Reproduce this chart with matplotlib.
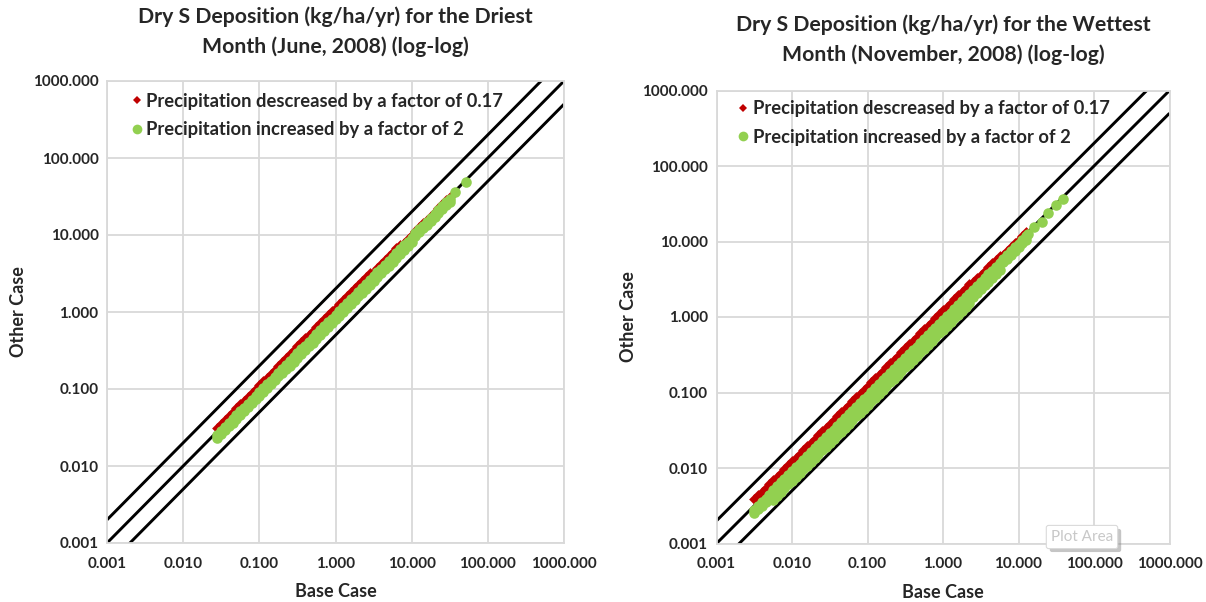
import matplotlib
matplotlib.use("Agg")
import matplotlib.pyplot as plt
import matplotlib.patheffects as pe
from matplotlib.lines import Line2D
from matplotlib.ticker import FixedLocator, FixedFormatter, NullLocator

plt.rcParams["font.family"] = ["Lato", "DejaVu Sans"]
plt.rcParams["font.weight"] = "bold"

# ---- data -------------------------------------------------------------
tick_values = [0.001, 0.01, 0.1, 1, 10, 100, 1000]
tick_labels = ["0.001", "0.010", "0.100", "1.000", "10.000", "100.000", "1000.000"]

series_names = ["Precipitation descreased by a factor of 0.17",
                "Precipitation increased by a factor of 2"]

# June 2008 (driest month): base-case cells
jun_base = [0.02818, 0.03162, 0.03548, 0.03981, 0.04467, 0.05012, 0.05623, 0.06310,
            0.07079, 0.07943, 0.08913,
            0.1000, 0.1122, 0.1259, 0.1413, 0.1585, 0.1778, 0.1995, 0.2239, 0.2512,
            0.2818, 0.3162, 0.3548, 0.3981, 0.4467, 0.5012, 0.5623, 0.6310, 0.7079,
            0.7943, 0.8913,
            1.000, 1.122, 1.259, 1.413, 1.585, 1.778, 1.995, 2.239, 2.512, 2.818,
            3.162, 3.548, 3.981, 4.467, 5.012, 5.623, 6.310, 7.079, 7.943, 8.913,
            10.00, 11.22, 12.59, 14.13, 15.85, 17.78, 19.95, 22.39, 25.12, 28.18, 31.62]
# precipitation x 0.17
jun_dec = [0.03156, 0.03541, 0.03974, 0.04459, 0.05003, 0.05613, 0.06298, 0.07067,
           0.07928, 0.08896, 0.09983,
           0.1120, 0.1257, 0.1410, 0.1583, 0.1775, 0.1991, 0.2234, 0.2508, 0.2864,
           0.3213, 0.3605, 0.4045, 0.4538, 0.5092, 0.5714, 0.6410, 0.7193, 0.8070,
           0.9055, 1.016,
           1.140, 1.279, 1.435, 1.611, 1.807, 2.027, 2.274, 2.552, 2.864, 3.213,
           3.352, 3.761, 4.220, 4.735, 5.313, 5.960, 6.689, 7.504, 7.943, 8.913,
           10.00, 11.22, 12.59, 14.13, 15.85, 17.78, 19.95, 22.39, 25.12, 28.18, 31.62]
# precipitation x 2 (upper and lower edge of the cloud, plus the largest cells)
jun_inc_upper = [0.02564, 0.02877, 0.03229, 0.03623, 0.04065, 0.04561, 0.05117, 0.05742,
                 0.06442, 0.07228, 0.08111,
                 0.0910, 0.1021, 0.1146, 0.1286, 0.1442, 0.1618, 0.1815, 0.2037, 0.2311,
                 0.2593, 0.2909, 0.3264, 0.3663, 0.4110, 0.4611, 0.5173, 0.5805, 0.6513,
                 0.7308, 0.8200,
                 0.920, 1.032, 1.158, 1.300, 1.458, 1.636, 1.835, 2.060, 2.311, 2.593,
                 2.909, 3.264, 3.663, 4.110, 4.611, 5.173, 5.805, 6.513, 7.308, 8.200,
                 9.20, 10.55, 11.83, 13.28, 14.90, 16.71, 18.75, 21.05, 23.61, 26.49, 29.72]
jun_inc_lower = [0.02311, 0.02593, 0.02909, 0.03264, 0.03663, 0.04110, 0.04611, 0.05174,
                 0.05805, 0.06513, 0.07309,
                 0.0820, 0.0920, 0.1032, 0.1159, 0.1300, 0.1458, 0.1636, 0.1836, 0.2010,
                 0.2254, 0.2530, 0.2838, 0.3185, 0.3574, 0.4010, 0.4498, 0.5048, 0.5663,
                 0.6354, 0.7130,
                 0.800, 0.898, 1.007, 1.130, 1.268, 1.422, 1.596, 1.791, 2.010, 2.254,
                 2.530, 2.838, 3.185, 3.574, 4.010, 4.498, 5.048, 5.663, 6.354, 7.130,
                 8.00, 9.65, 10.83, 12.15, 13.63, 15.29, 17.16, 19.26, 21.60, 24.23, 27.19]
jun_inc_top_base = [36.9, 51.4]
jun_inc_top_other = [36.1, 48.8]

# November 2008 (wettest month): base-case cells
nov_base = [0.003162, 0.003548, 0.003981, 0.004467, 0.005012, 0.005623, 0.006310,
            0.007079, 0.007943, 0.008913,
            0.01000, 0.01122, 0.01259, 0.01413, 0.01585, 0.01778, 0.01995, 0.02239,
            0.02512, 0.02818, 0.03162, 0.03548, 0.03981, 0.04467, 0.05012, 0.05623,
            0.06310, 0.07079, 0.07943, 0.08913,
            0.1000, 0.1122, 0.1259, 0.1413, 0.1585, 0.1778, 0.1995, 0.2239, 0.2512,
            0.2818, 0.3162, 0.3548, 0.3981, 0.4467, 0.5012, 0.5623, 0.6310, 0.7079,
            0.7943, 0.8913,
            1.000, 1.122, 1.259, 1.413, 1.585, 1.778, 1.995, 2.239, 2.512, 2.818,
            3.162, 3.548, 3.981, 4.467, 5.012, 5.623, 6.310, 7.079, 7.943, 8.913,
            10.00, 11.22, 12.59]
nov_dec = [0.003858, 0.004329, 0.004857, 0.005450, 0.006115, 0.006860, 0.007698,
           0.008636, 0.009690, 0.01087,
           0.01220, 0.01369, 0.01536, 0.01724, 0.01934, 0.02169, 0.02434, 0.02732,
           0.03065, 0.03438, 0.03858, 0.04329, 0.04857, 0.05450, 0.06115, 0.06860,
           0.07698, 0.08636, 0.09690, 0.1087,
           0.1220, 0.1369, 0.1536, 0.1724, 0.1934, 0.2169, 0.2434, 0.2732, 0.3065,
           0.3438, 0.3858, 0.4329, 0.4857, 0.5450, 0.6115, 0.6860, 0.7698, 0.8636,
           0.9690, 1.087,
           1.220, 1.369, 1.536, 1.724, 1.934, 2.169, 2.434, 2.732, 2.889, 3.241,
           3.636, 4.080, 4.578, 5.137, 5.764, 6.466, 6.689, 7.504, 8.420, 9.448,
           10.60, 11.89, 13.35]
nov_inc_upper = [0.002783, 0.003122, 0.003503, 0.003931, 0.004411, 0.005117, 0.005742,
                 0.006442, 0.007228, 0.008111,
                 0.00910, 0.01021, 0.01146, 0.01286, 0.01442, 0.01618, 0.01815, 0.02037,
                 0.02286, 0.02564, 0.02877, 0.03229, 0.03623, 0.04065, 0.04561, 0.05117,
                 0.05742, 0.06442, 0.07228, 0.08111,
                 0.0910, 0.1021, 0.1146, 0.1286, 0.1442, 0.1618, 0.1815, 0.2037, 0.2286,
                 0.2564, 0.2877, 0.3229, 0.3623, 0.4065, 0.4561, 0.5117, 0.5742, 0.6442,
                 0.7228, 0.8111,
                 0.910, 1.021, 1.146, 1.286, 1.442, 1.618, 1.815, 2.037, 2.311, 2.593,
                 2.909, 3.264, 3.663, 4.110, 4.611, 5.173, 5.931, 6.654, 7.466, 8.378,
                 9.40, 10.55, 11.83]
nov_inc_lower = [0.002530, 0.002838, 0.003185, 0.003574, 0.004010, 0.003824, 0.004291,
                 0.004814, 0.005401, 0.006061,
                 0.00680, 0.00763, 0.00856, 0.00961, 0.01078, 0.01209, 0.01357, 0.01523,
                 0.01708, 0.01916, 0.02150, 0.02413, 0.02707, 0.03038, 0.03408, 0.03824,
                 0.04291, 0.04814, 0.05401, 0.06061,
                 0.0680, 0.0763, 0.0856, 0.0961, 0.1078, 0.1209, 0.1357, 0.1523, 0.1708,
                 0.1916, 0.2150, 0.2413, 0.2707, 0.3038, 0.3408, 0.3824, 0.4291, 0.4814,
                 0.5401, 0.6061,
                 0.680, 0.763, 0.856, 0.961, 1.078, 1.209, 1.357, 1.523, 1.859, 2.085,
                 2.340, 2.626, 2.946, 3.306, 3.709, 4.161, 5.300, 5.946, 6.672, 7.487,
                 8.40, 9.42, 10.58]
nov_inc_top_base = [13.5, 16.2, 20.3, 24.5, 31.4, 38.4]
nov_inc_top_other = [12.6, 15.5, 18.3, 23.7, 30.4, 36.5]

# reference lines: other = factor * base
ref_factors = [2.0, 1.0, 0.5]

RED = "#C00000"
GREEN = "#92D050"
GRID = "#D9D9D9"
TEXT = "#262626"

W, H = 1206, 602
fig = plt.figure(figsize=(W / 100, H / 100), dpi=100)


def draw_panel(rect_px, title_lines, title_y, base, dec, inc_upper, inc_lower,
               top_base, top_other, leg_anchor):
    x0, y0, x1, y1 = rect_px
    ax = fig.add_axes([x0 / W, 1 - y1 / H, (x1 - x0) / W, (y1 - y0) / H])
    ax.set_xscale("log")
    ax.set_yscale("log")
    lo, hi = tick_values[0], tick_values[-1]
    ax.set_xlim(lo, hi)
    ax.set_ylim(lo, hi)

    for f in ref_factors:
        ax.plot([lo, hi], [lo * f, hi * f], color="black", lw=2.1, zorder=2,
                solid_capstyle="butt")

    ax.scatter(base, dec, marker="D", s=30, color=RED, linewidths=0, zorder=3)
    inc_x = base + base + top_base
    inc_y = inc_upper + inc_lower + top_other
    ax.scatter(inc_x, inc_y, marker="o", s=58, color=GREEN, linewidths=0, zorder=4)

    for axis in (ax.xaxis, ax.yaxis):
        axis.set_major_locator(FixedLocator(tick_values))
        axis.set_major_formatter(FixedFormatter(tick_labels))
        axis.set_minor_locator(NullLocator())
    ax.tick_params(length=0, labelsize=11, labelcolor=TEXT)
    ax.tick_params(axis="x", pad=10)
    ax.tick_params(axis="y", pad=6)
    for lab in ax.get_xticklabels() + ax.get_yticklabels():
        lab.set_fontweight("bold")
    ax.grid(True, color=GRID, lw=1.3, zorder=0)
    ax.set_axisbelow(True)
    for s in ax.spines.values():
        s.set_color(GRID)
        s.set_linewidth(1.3)

    ax.set_xlabel("Base Case", fontsize=13, fontweight="bold", color=TEXT, labelpad=9)
    ax.set_ylabel("Other Case", fontsize=13, fontweight="bold", color=TEXT, labelpad=4)

    handles = [Line2D([], [], ls="", marker="D", ms=4.5, color=RED, mew=0),
               Line2D([], [], ls="", marker="o", ms=7, color=GREEN, mew=0)]
    leg = ax.legend(handles, series_names, loc="upper left", bbox_to_anchor=leg_anchor,
                    frameon=False, prop=dict(size=13.2, weight="bold"),
                    handletextpad=0.0, labelspacing=0.62, borderaxespad=0,
                    borderpad=0, handlelength=1.0)
    for t in leg.get_texts():
        t.set_color(TEXT)

    cx = (x0 + x1) / 2 / W
    for line, yy in zip(title_lines, title_y):
        fig.text(cx, 1 - yy / H, line, ha="center", va="center",
                 fontsize=15.3, fontweight="bold", color=TEXT)
    return ax


draw_panel((107, 81, 564, 543),
           ["Dry S Deposition (kg/ha/yr) for the Driest",
            "Month (June, 2008) (log-log)"], [17, 47],
           jun_base, jun_dec, jun_inc_upper, jun_inc_lower,
           jun_inc_top_base, jun_inc_top_other, (0.046, 0.975))
draw_panel((716.5, 90.5, 1169.5, 543.5),
           ["Dry S Deposition (kg/ha/yr) for the Wettest",
            "Month (November, 2008) (log-log)"], [25, 55],
           nov_base, nov_dec, nov_inc_upper, nov_inc_lower,
           nov_inc_top_base, nov_inc_top_other, (0.039, 0.978))

# hover hint box over the right plot area
hint = fig.text(1082 / W, 1 - 537 / H, "Plot Area", ha="center", va="center",
                fontsize=11, fontweight="normal", color="#C8C8C8",
                bbox=dict(boxstyle="round,pad=0.3,rounding_size=0.15", fc="white",
                          ec="#DADADA", lw=0.8))
hint.get_bbox_patch().set_path_effects(
    [pe.SimplePatchShadow(offset=(2.5, -2.5), shadow_rgbFace="#808080", alpha=0.45),
     pe.Normal()])

fig.savefig("out.png", dpi=100, facecolor="white")
